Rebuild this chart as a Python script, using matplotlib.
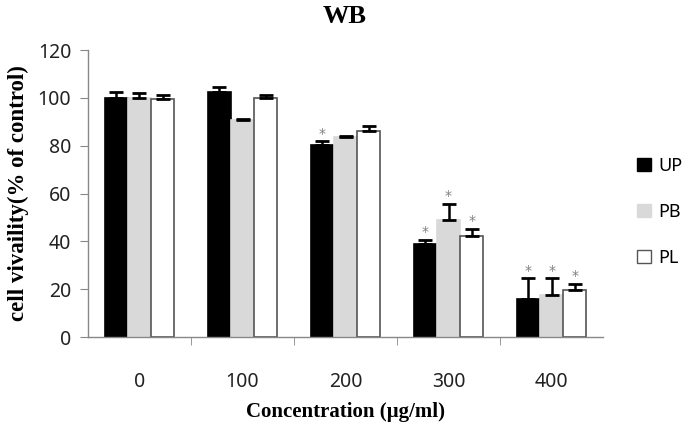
import matplotlib
matplotlib.use("Agg")
import matplotlib.pyplot as plt
import numpy as np
from matplotlib.patches import Patch

categories = ["0", "100", "200", "300", "400"]
series = ["UP", "PB", "PL"]
up = [100, 102.6, 80.3, 39, 16]
pb = [100, 90.6, 83.5, 48.8, 17.8]
pl = [99.5, 100.1, 86.3, 42.3, 19.7]
up_err = [2.5, 2, 1.5, 1.6, 8.6]
pb_err = [2, 0.5, 0.5, 7, 6.7]
pl_err = [1.5, 1.1, 2, 3, 2.5]
up_sig = [False, False, True, True, True]
pb_sig = [False, False, False, True, True]
pl_sig = [False, False, False, True, True]

values = [up, pb, pl]
errors = [up_err, pb_err, pl_err]
sigs = [up_sig, pb_sig, pl_sig]
colors = ["#000000", "#d9d9d9", "#ffffff"]
edges = ["#000000", "#d9d9d9", "#555555"]

fig = plt.figure(figsize=(6.9, 4.24), dpi=100)
ax = fig.add_axes([0.1275, 0.205, 0.7465, 0.677])

x = np.arange(len(categories))
w = 0.225
for i, (vals, errs, sg) in enumerate(zip(values, errors, sigs)):
    pos = x + (i - 1) * w
    ax.bar(pos, vals, width=w, color=colors[i], edgecolor=edges[i], linewidth=1.2, zorder=2)
    ax.errorbar(pos, vals, yerr=[np.zeros(len(vals)), errs], fmt="none",
                ecolor="black", elinewidth=1.8, capsize=5, capthick=2, zorder=3)
    for p, v, e, s in zip(pos, vals, errs, sg):
        if s:
            ax.text(p, v + e + 0.3, "*", ha="center", va="bottom", color="#808080",
                    fontsize=10)

ax.set_xlim(-0.5, len(categories) - 0.5)
ax.set_ylim(0, 120)
ax.set_yticks(np.arange(0, 121, 20))
ax.set_xticks(x)
ax.set_xticklabels(categories)
ax.set_xticks(np.arange(0.5, len(categories) - 0.5, 1), minor=True)
ax.tick_params(axis="x", which="major", length=0, pad=25, labelsize=14)
ax.tick_params(axis="x", which="minor", length=6, color="#888888", direction="out")
ax.tick_params(axis="y", length=6, color="#888888", labelsize=14, pad=6)
for lab in ax.get_xticklabels() + ax.get_yticklabels():
    lab.set_fontfamily("Noto Sans")
    lab.set_color("#222222")

for s in ["top", "right"]:
    ax.spines[s].set_visible(False)
for s in ["left", "bottom"]:
    ax.spines[s].set_color("#888888")
    ax.spines[s].set_linewidth(1.0)

fig.text(0.5, 0.962, "WB", ha="center", va="center", fontsize=19,
         fontweight="bold", fontfamily="Liberation Serif")
ax.set_ylabel("cell vivaility(% of control)", fontsize=16.5, fontweight="bold",
              fontfamily="Liberation Serif", labelpad=6)
ax.set_xlabel("Concentration (µg/ml)", fontsize=15, fontweight="bold",
              fontfamily="Liberation Serif", labelpad=7)

handles = [Patch(facecolor=colors[i], edgecolor=edges[i], label=series[i]) for i in range(3)]
leg = fig.legend(handles=handles, loc="center left", bbox_to_anchor=(0.9, 0.5),
                 frameon=False, handlelength=0.75, handleheight=0.75, handletextpad=0.4,
                 labelspacing=1.55, prop={"family": "Noto Sans", "size": 13})

fig.savefig("out.png", dpi=100)
